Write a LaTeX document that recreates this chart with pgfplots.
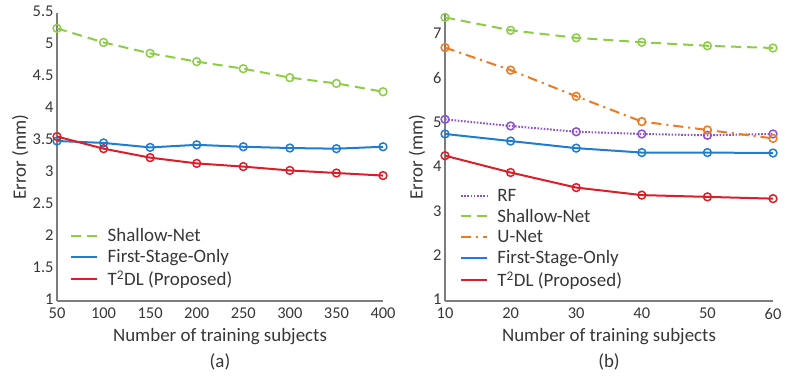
\documentclass[border=0pt]{standalone}
\usepackage{pgfplots}
\pgfplotsset{compat=1.18}
\usepackage{fontspec}
\setmainfont{Carlito}
\definecolor{cgreen}{RGB}{140,205,70}
\definecolor{cblue}{RGB}{30,125,210}
\definecolor{cred}{RGB}{220,30,40}
\definecolor{corange}{RGB}{240,120,30}
\definecolor{cpurple}{RGB}{140,80,210}
\definecolor{axgray}{RGB}{125,125,125}
\definecolor{txtgray}{RGB}{55,55,55}
\pgfplotsset{
  common/.style={
    scale only axis,
    width=326bp, height=288bp,
    clip mode=individual,
    axis x line*=bottom, axis y line*=left,
    axis line style={axgray, line width=1.2bp, -},
    major tick length=0pt,
    tick label style={font=\fontsize{16.5}{17}\selectfont, text=txtgray},
    xticklabel style={yshift=-3.5bp},
    yticklabel style={yshift=1.5bp},
    /pgf/number format/assume math mode=true,
    label style={font=\fontsize{19}{20}\selectfont, text=txtgray},
    xlabel style={at={(axis description cs:0.5,-0.125)}, anchor=center},
    legend cell align=left,
    legend style={draw=none, fill=none, inner sep=0pt, row sep=3.5bp,
      column sep=8bp,
      font=\fontsize{19}{20}\selectfont, text=txtgray,
      nodes={inner sep=1.5bp}},
    legend image code/.code={\draw[#1, mark=none] (0bp,0bp) -- (26bp,0bp);},
    every axis plot/.append style={line width=2bp, mark=o, mark size=3.9bp,
      mark options={solid, fill=white, line width=1.5bp}},
  },
  shallow/.style={cgreen, dash pattern=on 10bp off 6bp},
  first/.style={cblue},
  t2dl/.style={cred},
  unet/.style={corange, dash pattern=on 10bp off 5bp on 2bp off 5bp},
  rf/.style={cpurple, dash pattern=on 1.6bp off 1.6bp},
}
\begin{document}
\begin{tikzpicture}[x=1bp,y=1bp]
\useasboundingbox (0,0) rectangle (785,382);
\begin{axis}[common,
  at={(57bp,81bp)}, anchor=south west,
  xmin=50, xmax=400, ymin=1, ymax=5.5,
  xtick={50,100,...,400}, ytick={1,1.5,...,5.5},
  xlabel={Number of training subjects}, ylabel={Error (mm)},
  ylabel style={at={(axis description cs:-0.113,0.5)}, anchor=center},
  legend style={at={(axis description cs:0.040,0.258)}, anchor=north west},
]
\addplot[shallow] coordinates {(50,5.26)(100,5.04)(150,4.87)(200,4.74)(250,4.63)(300,4.49)(350,4.40)(400,4.27)};
\addplot[first] coordinates {(50,3.50)(100,3.47)(150,3.40)(200,3.44)(250,3.41)(300,3.39)(350,3.38)(400,3.41)};
\addplot[t2dl] coordinates {(50,3.57)(100,3.38)(150,3.24)(200,3.15)(250,3.10)(300,3.04)(350,3.00)(400,2.96)};
\legend{Shallow-Net, First-Stage-Only, T\textsuperscript{2}DL (Proposed)}
\node[font=\fontsize{19}{20}\selectfont, text=txtgray] at (axis description cs:0.5,-0.211) {(a)};
\end{axis}
\begin{axis}[common,
  at={(445bp,81bp)}, anchor=south west, width=328bp,
  xmin=10, xmax=60, ymin=1, ymax=7.5,
  xtick={10,20,...,60}, ytick={1,2,...,7},
  xlabel={Number of training subjects}, ylabel={Error (mm)},
  ylabel style={at={(axis description cs:-0.085,0.5)}, anchor=center},
  legend style={at={(axis description cs:0.045,0.395)}, anchor=north west},
]
\addplot[rf] coordinates {(10,5.10)(20,4.95)(30,4.82)(40,4.77)(50,4.74)(60,4.77)};
\addplot[shallow] coordinates {(10,7.40)(20,7.11)(30,6.94)(40,6.84)(50,6.76)(60,6.71)};
\addplot[unet] coordinates {(10,6.72)(20,6.21)(30,5.62)(40,5.05)(50,4.86)(60,4.67)};
\addplot[first] coordinates {(10,4.77)(20,4.61)(30,4.45)(40,4.35)(50,4.35)(60,4.34)};
\addplot[t2dl] coordinates {(10,4.28)(20,3.90)(30,3.56)(40,3.39)(50,3.35)(60,3.31)};
\legend{RF, Shallow-Net, U-Net, First-Stage-Only, T\textsuperscript{2}DL (Proposed)}
\node[font=\fontsize{19}{20}\selectfont, text=txtgray] at (axis description cs:0.5,-0.211) {(b)};
\end{axis}
\end{tikzpicture}
\end{document}
